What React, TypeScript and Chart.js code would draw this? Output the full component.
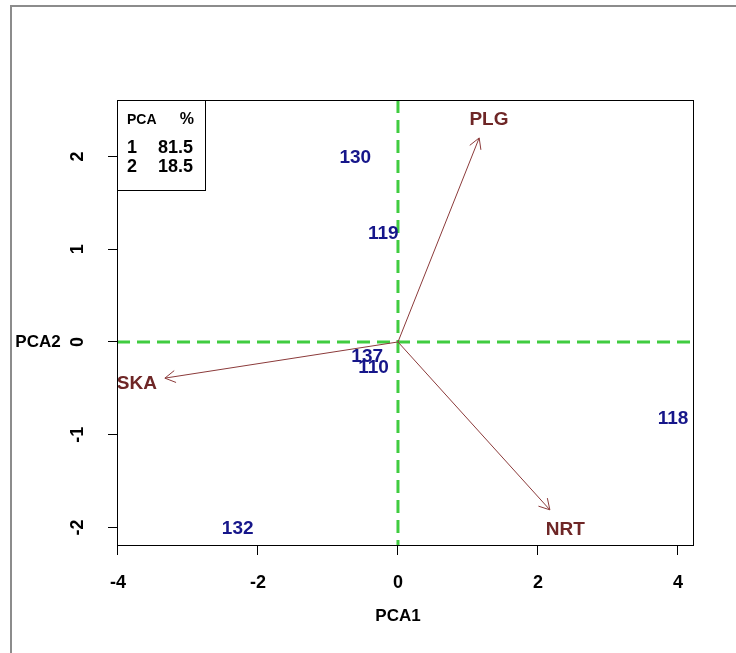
import { useEffect, useRef } from "react";
import { Chart, registerables } from "chart.js";

Chart.register(...registerables);

// ---- data ----
const sampleLabels = ["130", "119", "137", "110", "118", "132"];
const sampleX = [-0.61, -0.21, -0.44, -0.35, 3.93, -2.29];
const sampleY = [1.99, 1.17, -0.16, -0.28, -0.83, -2.01];

const varLabels = ["PLG", "SKA", "NRT"];
const varX = [1.16, -3.33, 2.17];
const varY = [2.2, -0.39, -1.81];
const varLabelX = [1.3, -3.73, 2.39];
const varLabelY = [2.4, -0.45, -2.03];

const xTicks = [-4, -2, 0, 2, 4];
const yTicks = [-2, -1, 0, 1, 2];
const xRange = [-4.014, 4.229];
const yRange = [-2.2, 2.609];

const pcaComponents = ["1", "2"];
const pcaPercent = ["81.5", "18.5"];
const xTitle = "PCA1";
const yTitle = "PCA2";

const FONT = "'Liberation Sans', Arial, sans-serif";
const NAVY = "#16168a";
const ARROW = "#8b3a3a";
const VARTEXT = "#6e2626";
const GREEN = "#40cc40";

const overlay = {
  id: "pcaOverlay",
  beforeDatasetsDraw(chart: any) {
    const { ctx, chartArea: a, scales } = chart;
    const x0 = scales.x.getPixelForValue(0);
    const y0 = scales.y.getPixelForValue(0);
    ctx.save();
    ctx.strokeStyle = GREEN;
    ctx.lineWidth = 3;
    ctx.setLineDash([13, 7]);
    ctx.beginPath();
    ctx.moveTo(a.left, y0);
    ctx.lineTo(a.right, y0);
    ctx.stroke();
    ctx.beginPath();
    ctx.moveTo(x0, a.top);
    ctx.lineTo(x0, a.bottom);
    ctx.stroke();
    ctx.restore();
  },
  afterDatasetsDraw(chart: any) {
    const { ctx } = chart;
    ctx.save();
    // arrowheads
    for (let i = 0; i < varLabels.length; i++) {
      const meta = chart.getDatasetMeta(i);
      const p0 = meta.data[0];
      const p1 = meta.data[1];
      const ang = Math.atan2(p1.y - p0.y, p1.x - p0.x);
      const len = 12;
      const spread = Math.PI / 6;
      ctx.strokeStyle = ARROW;
      ctx.lineWidth = 1;
      ctx.beginPath();
      ctx.moveTo(p1.x - len * Math.cos(ang - spread), p1.y - len * Math.sin(ang - spread));
      ctx.lineTo(p1.x, p1.y);
      ctx.lineTo(p1.x - len * Math.cos(ang + spread), p1.y - len * Math.sin(ang + spread));
      ctx.stroke();
    }
    ctx.textAlign = "center";
    ctx.textBaseline = "middle";
    // sample labels
    const sMeta = chart.getDatasetMeta(varLabels.length);
    ctx.fillStyle = NAVY;
    ctx.font = `bold 19px ${FONT}`;
    sMeta.data.forEach((el: any, i: number) => {
      ctx.fillText(sampleLabels[i], el.x, el.y);
    });
    // variable labels
    const vMeta = chart.getDatasetMeta(varLabels.length + 1);
    ctx.fillStyle = VARTEXT;
    vMeta.data.forEach((el: any, i: number) => {
      ctx.fillText(varLabels[i], el.x, el.y);
    });
    ctx.restore();
  },
  afterDraw(chart: any) {
    const { ctx, chartArea: a, width, height } = chart;
    ctx.save();
    // outer frame
    ctx.strokeStyle = "#8c8c8c";
    ctx.lineWidth = 2;
    ctx.beginPath();
    ctx.moveTo(11, height);
    ctx.lineTo(11, 6);
    ctx.lineTo(width, 6);
    ctx.stroke();
    // plot box
    ctx.strokeStyle = "#000";
    ctx.lineWidth = 1;
    ctx.strokeRect(a.left + 0.5, a.top + 0.5, a.right - a.left - 1, a.bottom - a.top - 1);
    // legend
    const lx = a.left;
    const ly = a.top;
    ctx.fillStyle = "#fff";
    ctx.fillRect(lx + 1, ly + 1, 88, 89);
    ctx.strokeRect(lx + 0.5, ly + 0.5, 88, 90);
    ctx.fillStyle = "#000";
    ctx.textBaseline = "middle";
    ctx.font = `bold 14px ${FONT}`;
    ctx.textAlign = "left";
    ctx.fillText("PCA", lx + 10, ly + 20);
    ctx.textAlign = "right";
    ctx.font = `bold 16px ${FONT}`;
    ctx.fillText("%", lx + 77, ly + 20);
    ctx.font = `bold 18px ${FONT}`;
    pcaComponents.forEach((c, i) => {
      const yy = ly + 48 + i * 19;
      ctx.textAlign = "left";
      ctx.fillText(c, lx + 10, yy);
      ctx.textAlign = "right";
      ctx.fillText(pcaPercent[i], lx + 76, yy);
    });
    // axis titles
    ctx.font = `bold 17px ${FONT}`;
    ctx.textAlign = "center";
    ctx.fillText(xTitle, chart.scales.x.getPixelForValue(0), 616);
    ctx.fillText(yTitle, 38, chart.scales.y.getPixelForValue(0));
    ctx.restore();
  },
};

export default function App() {
  const ref = useRef<HTMLCanvasElement | null>(null);
  useEffect(() => {
    if (!ref.current) return;
    const arrowSets = varLabels.map((name, i) => ({
      type: "line" as const,
      label: name,
      data: [
        { x: 0, y: 0 },
        { x: varX[i], y: varY[i] },
      ],
      borderColor: ARROW,
      borderWidth: 1,
      pointRadius: 0,
      showLine: true,
      fill: false,
    }));
    const chart = new Chart(ref.current, {
      type: "scatter",
      data: {
        datasets: [
          ...arrowSets,
          {
            label: "samples",
            data: sampleX.map((x, i) => ({ x, y: sampleY[i] })),
            pointRadius: 0,
          },
          {
            label: "variables",
            data: varLabelX.map((x, i) => ({ x, y: varLabelY[i] })),
            pointRadius: 0,
          },
        ] as any,
      },
      options: {
        animation: false,
        responsive: false,
        devicePixelRatio: 1,
        layout: { padding: { left: 0, top: 100, right: 42, bottom: 0 } },
        plugins: { legend: { display: false }, tooltip: { enabled: false } },
        scales: {
          x: {
            type: "linear",
            min: xRange[0],
            max: xRange[1],
            afterBuildTicks: (s: any) => {
              s.ticks = xTicks.map((v) => ({ value: v }));
            },
            afterFit: (s: any) => {
              s.height = 107;
            },
            grid: { drawOnChartArea: false, drawTicks: true, tickLength: 9, color: "#000" },
            border: { display: false },
            ticks: {
              color: "#000",
              font: { family: FONT, size: 18, weight: "bold" },
              padding: 17,
              maxRotation: 0,
              callback: (v: any) => String(v),
            },
          },
          y: {
            type: "linear",
            min: yRange[0],
            max: yRange[1],
            afterBuildTicks: (s: any) => {
              s.ticks = yTicks.map((v) => ({ value: v }));
            },
            afterFit: (s: any) => {
              s.width = 117;
            },
            grid: { drawOnChartArea: false, drawTicks: true, tickLength: 9, color: "#000" },
            border: { display: false },
            ticks: {
              color: "#000",
              font: { family: FONT, size: 18, weight: "bold" },
              padding: 22,
              minRotation: 90,
              maxRotation: 90,
              crossAlign: "center",
              callback: (v: any) => String(v),
            },
          },
        },
      },
      plugins: [overlay],
    });
    return () => chart.destroy();
  }, []);
  return (
    <div style={{ position: "fixed", left: 0, top: 0, width: 736, height: 653, background: "#fff" }}>
      <canvas ref={ref} width={736} height={653} style={{ display: "block", width: 736, height: 653 }} />
    </div>
  );
}
